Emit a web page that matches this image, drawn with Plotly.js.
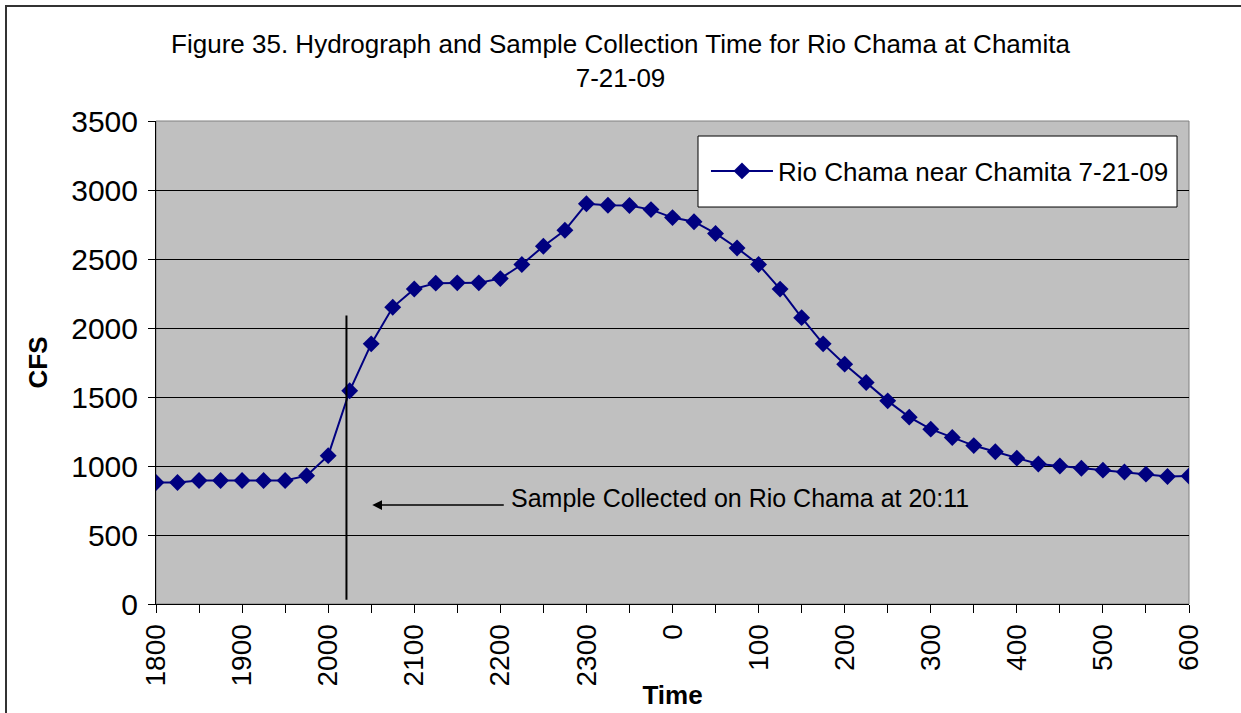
<!DOCTYPE html>
<html>
<head>
<meta charset="utf-8">
<script src="https://cdn.plot.ly/plotly-3.0.1.min.js"></script>
<style>
  html, body { margin: 0; padding: 0; background: #fff; }
  #wrap { position: relative; width: 1241px; height: 713px; overflow: hidden; }
  #chart { position: absolute; left: 0; top: 0; width: 1241px; height: 713px; }
  #frame { position: absolute; left: 5px; top: 5px; width: 1300px; height: 800px;
           border-left: 2px solid #333; border-top: 2px solid #333; pointer-events: none; }
</style>
</head>
<body>
<div id="wrap">
  <div id="chart"></div>
  <div id="frame"></div>
</div>
<script>
// 15-minute time steps, 18:00 on 7-21-09 to 06:00 next morning
const times = ["1800","1815","1830","1845","1900","1915","1930","1945",
  "2000","2015","2030","2045","2100","2115","2130","2145",
  "2200","2215","2230","2245","2300","2315","2330","2345",
  "0","15","30","45","100","115","130","145",
  "200","215","230","245","300","315","330","345",
  "400","415","430","445","500","515","530","545","600"];

// Discharge, CFS
const flowCFS = [880, 880, 895, 895, 895, 895, 895, 930,
  1075, 1545, 1885, 2150, 2283, 2325, 2327, 2327,
  2358, 2460, 2592, 2708, 2900, 2890, 2888, 2858,
  2800, 2770, 2685, 2580, 2460, 2282, 2075, 1885,
  1738, 1605, 1472, 1354, 1267, 1207, 1148, 1103,
  1057, 1014, 1000, 984, 970, 956, 941, 924, 927];

// Tick marks every 30 min, labels on the hour
const tickTimes = ["1800","1830","1900","1930","2000","2030","2100","2130",
  "2200","2230","2300","2330","0","30","100","130","200","230",
  "300","330","400","430","500","530","600"];
const tickLabels = ["1800","","1900","","2000","","2100","",
  "2200","","2300","","0","","100","","200","",
  "300","","400","","500","","600"];

const seriesName = "Rio Chama near Chamita 7-21-09";
const titleLines = ["Figure 35. Hydrograph and Sample Collection Time for Rio Chama at Chamita", "7-21-09"];
const sampleNote = "Sample Collected on Rio Chama at 20:11";
const sampleIndex = 8.85;       // position of the 20:11 sample line (category index, as drawn)
const sampleLineY = [30, 2090]; // extent of the sample line, CFS
const arrowTip = [10.05, 717];  // arrow head location (index, CFS)
const noteAt = [16.4, 768];     // note text anchor (index, CFS)

const FONT = "Liberation Sans, Arial, sans-serif";
const navy = "#000080";

const trace = {
  type: "scatter",
  mode: "lines+markers",
  x: times,
  y: flowCFS,
  name: seriesName,
  showlegend: true,
  line: { color: navy, width: 2 },
  marker: { symbol: "diamond", size: 13, color: navy, line: { width: 0 } }
};

const layout = {
  width: 1241,
  height: 713,
  margin: { l: 156, r: 52, t: 121, b: 109, pad: 0 },
  paper_bgcolor: "#ffffff",
  plot_bgcolor: "#c0c0c0",
  font: { family: FONT, color: "#000" },
  showlegend: true,
  title: {
    text: titleLines.join("<br>"),
    x: 0.5, xanchor: "center",
    y: 0.925, yanchor: "top",
    font: { family: FONT, size: 26, color: "#000" }
  },
  xaxis: {
    type: "category",
    range: [0, times.length - 1],
    tickmode: "array",
    tickvals: tickTimes,
    ticktext: tickLabels,
    tickangle: -90,
    ticks: "outside",
    ticklen: 8,
    tickwidth: 1,
    tickcolor: "#000",
    showgrid: false,
    showline: true,
    linecolor: "#000",
    linewidth: 1,
    zeroline: false,
    tickfont: { family: FONT, size: 28, color: "#000" },
    title: { text: "<b>Time</b>", standoff: 0, font: { family: FONT, size: 26, color: "#000" } },
    fixedrange: true
  },
  yaxis: {
    range: [0, 3500],
    dtick: 500,
    tick0: 0,
    ticks: "outside",
    ticklen: 7,
    tickwidth: 1,
    tickcolor: "#000",
    ticklabelstandoff: 4,
    showgrid: true,
    gridcolor: "#000",
    gridwidth: 1,
    showline: true,
    linecolor: "#000",
    linewidth: 1,
    zeroline: false,
    tickfont: { family: FONT, size: 30, color: "#000" },
    title: { text: "<b>CFS</b>", standoff: 16, font: { family: FONT, size: 26, color: "#000" } },
    fixedrange: true
  },
  legend: {
    x: 0.5324, xanchor: "left",
    y: 0.8965, yanchor: "middle",
    bgcolor: "rgba(0,0,0,0)",
    borderwidth: 0,
    itemwidth: 62,
    font: { family: FONT, size: 26, color: "#000" }
  },
  shapes: [
    // grey plot-area frame (top/right)
    { type: "rect", xref: "paper", yref: "paper", x0: 0, x1: 1, y0: 0, y1: 1,
      line: { color: "#808080", width: 1 }, fillcolor: "rgba(0,0,0,0)", layer: "between" },
    // legend box
    { type: "rect", xref: "paper", yref: "paper", x0: 0.5247, x1: 0.9884, y0: 0.8219, y1: 0.9689,
      line: { color: "#000", width: 1 }, fillcolor: "#ffffff", layer: "above" },
    // sample collection line
    { type: "line", xref: "x", yref: "y", x0: sampleIndex, x1: sampleIndex,
      y0: sampleLineY[0], y1: sampleLineY[1], line: { color: "#000", width: 2 }, layer: "above" }
  ],
  annotations: [
    { xref: "x", yref: "y", x: arrowTip[0], y: arrowTip[1], text: "",
      showarrow: true, arrowhead: 2, arrowsize: 1.3, arrowwidth: 1.5, arrowcolor: "#000",
      ax: 133, ay: 0, axref: "pixel", ayref: "pixel", standoff: 0 },
    { xref: "x", yref: "y", x: noteAt[0], y: noteAt[1], text: sampleNote,
      showarrow: false, xanchor: "left", yanchor: "middle",
      font: { family: FONT, size: 25, color: "#000" } }
  ]
};

Plotly.newPlot("chart", [trace], layout, { displayModeBar: false, staticPlot: true });
</script>
</body>
</html>
